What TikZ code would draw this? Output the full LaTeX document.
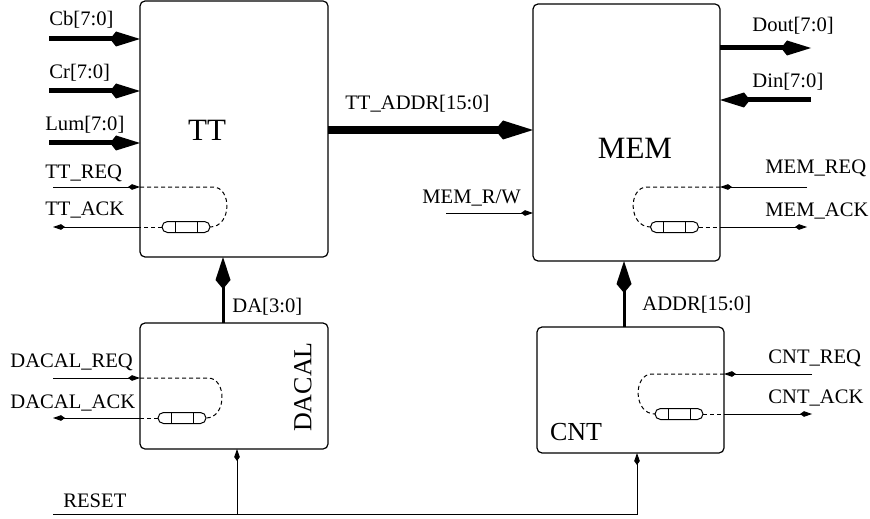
\documentclass[tikz,border=0pt]{standalone}
\usepackage{fontspec}
\setmainfont{Liberation Serif}
\usetikzlibrary{arrows.meta}

\begin{document}
\begin{tikzpicture}[
    x=0.5pt, y=-0.5pt,
    block/.style={draw, line width=0.6pt, rounded corners=2.5pt, inner sep=0pt, outer sep=0pt, minimum width=94pt},
    fifo/.style={draw, line width=0.5pt, rounded corners=2.75pt, inner sep=0pt, outer sep=0pt,
        minimum width=24pt, minimum height=5.5pt,
        path picture={\draw ([xshift=-5.5pt]path picture bounding box.north) -- ([xshift=-5.5pt]path picture bounding box.south)
                            ([xshift=5.5pt]path picture bounding box.north) -- ([xshift=5.5pt]path picture bounding box.south);}},
    sig/.style={line width=0.5pt, -{Kite[length=6pt,width=2.8pt,inset=2pt]}},
    hsloop/.style={line width=0.5pt, dash pattern=on 2pt off 1.5pt},
    bus/.style={line width=2.5pt, -{Kite[length=15pt,width=7.5pt,inset=3pt]}},
    wbus/.style={line width=4pt, -{Kite[length=19pt,width=9.5pt,inset=4pt]}},
    vbus/.style={line width=1.5pt, -{Kite[length=16pt,width=7.5pt,inset=4.5pt]}},
    lbl/.style={anchor=base west, inner sep=0pt, font=\fontsize{10.3}{12}\selectfont},
    blkname/.style={inner sep=0pt, font=\fontsize{15.5}{18}\selectfont}
]
    \useasboundingbox (0,0) rectangle (870,518);

    % Blocks
    \node[block, minimum height=128pt] (tt) at (234,129) {};
    \node[block, minimum width=93.5pt, minimum height=128.5pt] (mem) at (626.5,132.5) {};
    \node[block, minimum height=63pt] (dacal) at (234,386) {};
    \node[block, minimum width=93.5pt, minimum height=63pt] (cnt) at (630.5,390) {};

    \node[blkname] (ttname) at (207,130) {TT};
    \node[blkname] (memname) at (635,148) {MEM};
    \node[blkname, font=\fontsize{13}{15}\selectfont, rotate=90] (dacalname) at (303,387) {DACAL};
    \node[blkname, font=\fontsize{13}{15}\selectfont] (cntname) at (576,432) {CNT};

    % Free ends
    \coordinate (cb) at (49,39);
    \coordinate (cr) at (49,91);
    \coordinate (lum) at (49,143);
    \coordinate (ttreq) at (53,187);
    \coordinate (ttack) at (53,227);
    \coordinate (dout) at (811,48);
    \coordinate (din) at (811,100);
    \coordinate (memrw) at (446,213);
    \coordinate (memreq) at (807,187);
    \coordinate (memack) at (807,227);
    \coordinate (dacreq) at (53,378);
    \coordinate (dacack) at (53,418);
    \coordinate (cntreq) at (812,374);
    \coordinate (cntack) at (812,414);
    \coordinate (rst) at (53,514);
    \coordinate (dacrst) at ([xshift=1.5pt]dacal.south);
    \coordinate (cntrst) at ([xshift=3.25pt]cnt.south);

    % TT
    \draw[bus] (cb) -- (cb -| tt.west);
    \draw[bus] (cr) -- (cr -| tt.west);
    \draw[bus] (lum) -- (lum -| tt.west);
    \node[fifo] (ttbuf) at (186,227) {};
    \draw[sig] (ttreq) -- (ttreq -| tt.west);
    \draw[hsloop] (ttreq -| tt.west) -- (213,187) .. controls (232,187) and (232,227) .. (ttbuf.east);
    \draw[hsloop] (ttbuf.west) -- (ttbuf.west -| tt.west);
    \draw[sig] (ttack -| tt.west) -- (ttack);

    \node[lbl] (cblbl) at (49,26) {Cb[7:0]};
    \node[lbl] (crlbl) at (49,79) {Cr[7:0]};
    \node[lbl] (lumlbl) at (45,131) {Lum[7:0]};
    \node[lbl] (ttreqlbl) at (45,178) {TT\_REQ};
    \node[lbl] (ttacklbl) at (45,215) {TT\_ACK};

    % TT -> MEM
    \draw[wbus] ([yshift=-0.5pt]tt.east) -- ([yshift=-0.5pt]tt.east -| mem.west);
    \node[lbl] (ttaddrlbl) at (345,110) {TT\_ADDR[15:0]};

    % MEM
    \draw[bus] (dout -| mem.east) -- (dout);
    \draw[bus] (din) -- (din -| mem.east);
    \draw[sig] (memrw) -- (memrw -| mem.west);
    \node[fifo] (membuf) at (674.5,227) {};
    \draw[sig] (memreq) -- (memreq -| mem.east);
    \draw[hsloop] (memreq -| mem.east) -- (647,187) .. controls (628,187) and (628,227) .. (membuf.west);
    \draw[hsloop] (membuf.east) -- (membuf.east -| mem.east);
    \draw[sig] (memack -| mem.east) -- (memack);

    \node[lbl] (doutlbl) at (752,32) {Dout[7:0]};
    \node[lbl] (dinlbl) at (752,88) {Din[7:0]};
    \node[lbl] (memrwlbl) at (422,203) {MEM\_R/W};
    \node[lbl] (memreqlbl) at (765,174) {MEM\_REQ};
    \node[lbl] (memacklbl) at (765,216) {MEM\_ACK};

    % DACAL
    \draw[vbus] ([xshift=-5.5pt]dacal.north) -- ([xshift=-5.5pt]tt.south);
    \node[fifo] (dacbuf) at (182,418) {};
    \draw[sig] (dacreq) -- (dacreq -| dacal.west);
    \draw[hsloop] (dacreq -| dacal.west) -- (208,378) .. controls (227,378) and (227,418) .. (dacbuf.east);
    \draw[hsloop] (dacbuf.west) -- (dacbuf.west -| dacal.west);
    \draw[sig] (dacack -| dacal.west) -- (dacack);

    \node[lbl] (dalbl) at (232,312) {DA[3:0]};
    \node[lbl] (dacreqlbl) at (10,367) {DACAL\_REQ};
    \node[lbl] (dacacklbl) at (10,408) {DACAL\_ACK};

    % CNT
    \draw[vbus] ([xshift=-3.25pt]cnt.north) -- ([xshift=-3.25pt]cnt.north |- mem.south);
    \node[fifo] (cntbuf) at (679,414) {};
    \draw[sig] (cntreq) -- (cntreq -| cnt.east);
    \draw[hsloop] (cntreq -| cnt.east) -- (652,374) .. controls (633,374) and (633,414) .. (cntbuf.west);
    \draw[hsloop] (cntbuf.east) -- (cntbuf.east -| cnt.east);
    \draw[sig] (cntack -| cnt.east) -- (cntack);

    \node[lbl] (addrlbl) at (642,310) {ADDR[15:0]};
    \node[lbl] (cntreqlbl) at (768,363) {CNT\_REQ};
    \node[lbl] (cntacklbl) at (768,403) {CNT\_ACK};

    % Reset
    \draw[sig] (rst) -| (cntrst);
    \draw[sig] (rst -| dacrst) -- (dacrst);
    \node[lbl] (rstlbl) at (63,507) {RESET};
\end{tikzpicture}
\end{document}
